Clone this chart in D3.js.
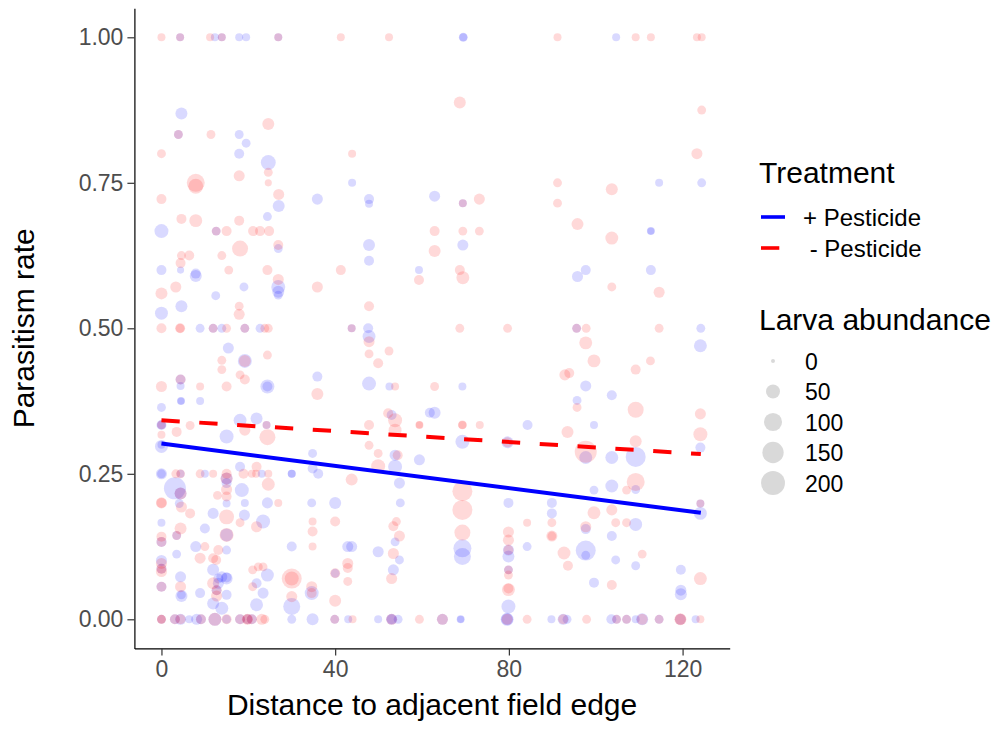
<!DOCTYPE html>
<html>
<head>
<meta charset="utf-8">
<script src="https://cdn.jsdelivr.net/npm/d3@7"></script>
<style>
  body { margin: 0; background: #fff; }
  svg { display: block; }
  text { font-family: Arial, "Liberation Sans", Helvetica, sans-serif; }
</style>
</head>
<body>
<svg id="chart" width="995" height="751"></svg>
<script>
// ---- data -------------------------------------------------------------
const xTicks = [0, 40, 80, 120];
const yTicks = [0, 0.25, 0.5, 0.75, 1];
const treatmentLabels = ["+ Pesticide", " - Pesticide"];
const treatmentColors = ["#0000ff", "#ff0000"];
const sizeBreaks = [0, 50, 100, 150, 200];

// [distance to field edge, parasitism rate, larva abundance]
const plusPoints = [
  [4.3,1,8],[12.3,1,8],[13.9,1,8],[17.9,1,8],[19.5,1,8],[26.9,1,8],[69.5,1,12],[69.5,1,8],[104.7,1,8],
  [4.6,0.869,32],[3.9,0.833,12],[17.9,0.833,12],[19.5,0.818,12],[17.9,0.80,18],[24.6,0.785,60],[27,0.710,32],
  [35.9,0.722,25],[43.9,0.75,8],[47.8,0.722,18],[47.8,0.714,8],[0,0.667,50],[12.6,0.667,12],[24.4,0.692,12],
  [26.9,0.637,12],[4.4,0.600,5],[0,0.600,18],[7.9,0.590,32],[7.9,0.594,18],[26.9,0.571,50],[26.9,0.563,32],
  [26.9,0.557,12],[19,0.571,12],[12.5,0.556,12],[0,0.526,40],[4.6,0.538,32],[47.8,0.643,32],[47.8,0.616,18],
  [59.3,0.600,8],[43.8,0.5,8],
  [8.9,0.5,12],[11.9,0.5,12],[13.9,0.5,12],[19.2,0.5,12],[22.7,0.5,12],[47.6,0.5,18],[95.6,0.5,12],[124.2,0.5,12],
  [62.9,0.727,25],[69.4,0.715,8],[69.4,0.643,25],[112.7,0.667,8],[112.7,0.667,5],[114.6,0.75,8],[124.4,0.75,12],
  [95.8,0.589,25],[97.7,0.600,18],[112.7,0.600,18],
  [15.4,0.466,25],[19.2,0.444,50],[4.4,0.412,18],[4.4,0.401,8],[24.4,0.400,50],[24.4,0.400,18],[4.5,0.375,8],
  [4.5,0.375,5],[8.9,0.375,8],[35.9,0.417,18],[0,0.364,12],[0,0.334,18],[0,0.334,12],[0,0.297,40],[0,0.300,8],
  [15,0.314,50],[18.1,0.342,40],[21.9,0.345,32],[24.2,0.334,8],[18.1,0.262,18],[30,0.250,8],[34.8,0.285,12],
  [34.8,0.259,18],[36.1,0.250,18],[53,0.351,18],[53.8,0.282,25],[53.8,0.262,50],[54.8,0.234,25],[59.4,0.274,25],
  [61.8,0.355,18],[47.8,0.486,40],[47.8,0.405,50],[52.5,0.400,8],
  [0,0.25,25],[0,0.25,12],[4.4,0.25,8],[10,0.25,8],[15,0.242,32],[15,0.234,18],[23.1,0.25,8],[30,0.25,8],
  [3.1,0.225,162],[4.4,0.216,32],[4.1,0.199,12],[0,0.166,8],[0,0.133,18],[0,0.101,25],[0,0.087,18],[0,0.056,18],
  [3.5,0.144,12],[3.5,0.112,12],[4.4,0.073,25],[4.6,0.040,32],[4.6,0.042,12],[7.9,0.125,25],[8.9,0.045,18],
  [10,0.156,18],[11.9,0.182,25],[11.9,0.085,32],[13.1,0.070,18],[13.1,0.062,25],[12.7,0.050,18],[11.9,0.027,32],
  [13.9,0.019,40],[13.9,0.073,25],[15,0.070,32],[15,0.072,18],[15,0.145,40],[15,0.119,12],[15,0.042,18],
  [15,0.199,8],[18.5,0.222,50],[19.2,0.200,8],[19.1,0.179,25],[23.4,0.168,50],[24.4,0.200,25],[24.4,0.076,40],
  [21.9,0.062,18],[23.4,0.045,25],[21.9,0.025,40],[30,0.022,85],[30,0.125,18],[34.6,0.045,50],[34.6,0.200,12],
  [40,0.200,32],[40,0.079,12],[42.9,0.125,25],[43.8,0.125,25],[49.9,0.116,25],[53.8,0.133,12],[54.8,0.102,12],
  [53.4,0.085,25],[55,0.200,12],
  [69.3,0.400,8],[62.9,0.355,32],[97.7,0.401,25],[95.7,0.376,12],[103.7,0.385,18],[124.1,0.470,40],
  [124.1,0.295,18],[99.6,0.334,8],[84.3,0.334,18],[69.3,0.305,50],[79.7,0.304,32],[97.7,0.278,40],
  [103.7,0.278,40],[109.2,0.279,128],[109.2,0.223,12],[103.7,0.229,40],[99.6,0.222,12],[69.3,0.122,98],
  [69.3,0.108,85],[79.9,0.200,18],[79.9,0.119,25],[79.9,0.108,32],[79.9,0.085,12],[79.9,0.022,50],
  [84.2,0.125,12],[89.9,0.200,18],[89.9,0.182,18],[97.7,0.155,18],[97.7,0.118,128],[97.7,0.110,12],
  [109.2,0.163,40],[103.7,0.143,18],[104.6,0.102,12],[109.2,0.092,12],[99.6,0.063,18],[119.6,0.085,18],
  [119.6,0.050,25],[119.6,0.043,32],[124.1,0.199,8],[124.1,0.182,40],
  [0,0,12],[3.1,0,18],[4.4,0,25],[6.4,0,8],[8.1,0,25],[9.1,0,18],[12.3,0,40],[15,0,12],[18.1,0,18],[19.8,0,18],
  [20.8,0,18],[30,0,12],[34.8,0,32],[39.9,0,12],[43,0,8],[49.9,0,8],[53,0,25],[53,0,18],[54.5,0,12],[64.7,0,25],
  [68.9,0,8],[68.9,0,5],[79.6,0,40],[79.6,0,32],[89.8,0,8],[92.5,0,25],[93.4,0,12],[103.6,0,18],[104.8,0,12],
  [107.1,0,12],[109.2,0,8],[110.7,0,32],[114.6,0,12],[119.5,0,25],[123,0,8]
];

const minusPoints = [
  [0,1,8],[4.3,1,8],[11.2,1,8],[13.9,1,8],[26.9,1,8],[41.3,1,8],[52.4,1,8],[91.2,1,8],[109.2,1,8],[112.7,1,8],
  [123.3,1,8],[124.4,1,8],
  [3.9,0.833,12],[11.4,0.833,12],[24.6,0.851,32],[0,0.80,12],[24.6,0.768,12],[24.6,0.75,5],[7.9,0.75,98],
  [7.9,0.744,60],[0,0.722,18],[17.9,0.762,25],[27,0.730,25],[43.9,0.80,8],[4.6,0.688,18],[7.9,0.685,40],
  [12.6,0.667,12],[15,0.667,18],[17.9,0.685,18],[21.1,0.667,18],[22.7,0.667,18],[24.8,0.667,18],[18.1,0.637,72],
  [26.9,0.643,18],[4.6,0.625,12],[6.4,0.625,18],[4.4,0.612,18],[13.9,0.625,12],[15.5,0.600,12],[24.4,0.600,18],
  [26.9,0.584,25],[3.3,0.571,25],[0,0.560,32],[17.9,0.538,12],[17.9,0.524,25],[35.9,0.571,25],[41.3,0.600,18],
  [47.8,0.538,18],[59.3,0.583,18],[43.8,0.5,8],
  [0,0.5,18],[4.3,0.5,18],[4.3,0.5,12],[11.9,0.5,12],[15,0.5,12],[19.2,0.5,12],[23.8,0.5,12],[24.6,0.5,12],
  [68.7,0.5,12],[79.7,0.5,12],[95.6,0.5,12],[97.8,0.5,12],[114.6,0.5,12],
  [68.7,0.888,32],[124.4,0.875,12],[123.3,0.80,25],[91.2,0.75,12],[103.7,0.739,32],[69.4,0.715,8],[73.2,0.722,25],
  [91.2,0.715,12],[62.9,0.667,18],[62.9,0.633,32],[69.4,0.667,12],[73.2,0.667,12],[95.8,0.679,32],[103.7,0.655,40],
  [68.7,0.600,18],[69.4,0.587,40],[103.7,0.571,12],[114.6,0.562,25],
  [13.9,0.445,12],[13.9,0.429,12],[19.2,0.444,32],[24.4,0.454,12],[18.1,0.420,12],[19.2,0.412,18],[0,0.400,25],
  [4.4,0.412,18],[8.9,0.400,8],[15,0.400,18],[35.9,0.387,32],[0,0.334,12],[0,0.317,8],[3.5,0.322,18],
  [6.6,0.333,12],[19.2,0.325,25],[24.2,0.334,8],[24.4,0.313,72],[21.9,0.262,18],[43.8,0.240,32],[47.8,0.334,18],
  [47.8,0.299,12],[49.9,0.285,12],[49.9,0.263,50],[52.2,0.354,18],[53.8,0.342,50],[53.8,0.325,40],[54.4,0.282,18],
  [59.4,0.334,8],[59.4,0.334,5],[47.8,0.477,25],[47.8,0.456,12],[49.9,0.440,18],[52.4,0.461,12],[53.8,0.400,8],
  [3.3,0.25,12],[4.4,0.25,12],[8.9,0.25,12],[11.9,0.25,8],[15,0.25,18],[15,0.242,32],[18.9,0.25,18],
  [20.8,0.25,8],[21.8,0.25,8],[24.6,0.25,8],[24.6,0.232,40],
  [4.4,0.216,32],[4.6,0.193,25],[6.6,0.182,18],[0,0.200,25],[0,0.200,18],[0,0.142,18],[0,0.133,18],[0,0.096,25],
  [0,0.082,25],[0,0.087,18],[0,0.056,18],[3.5,0.144,12],[4.4,0.156,32],[4.4,0.056,25],[8.9,0.105,25],
  [10,0.125,12],[11.9,0.105,18],[12.6,0.102,18],[11.9,0.062,32],[12.7,0.050,18],[12.7,0.040,25],[13.1,0.119,18],
  [15,0.176,60],[15,0.145,50],[15,0.223,25],[15,0.211,18],[12.9,0.213,12],[18.1,0.166,12],[21.9,0.159,25],
  [26.9,0.200,8],[21,0.085,12],[22.3,0.090,12],[23.4,0.090,12],[21,0.056,12],[30,0.070,128],[30,0.070,50],
  [30,0.039,25],[34.8,0.168,8],[34.8,0.151,18],[34.8,0.125,8],[34.6,0.056,25],[34.6,0.045,18],[40,0.168,18],
  [40,0.079,18],[40,0.032,32],[42.9,0.096,25],[42.9,0.088,18],[42.9,0.065,12],[53.4,0.160,18],[54.1,0.168,12],
  [54.8,0.143,25],[53.4,0.113,25],[53,0.070,25],
  [62.9,0.400,12],[97.7,0.475,40],[99.6,0.444,40],[92.9,0.420,25],[93.9,0.423,18],[95.7,0.364,12],
  [109.2,0.429,18],[112.6,0.444,12],[109.2,0.360,72],[124.1,0.353,25],[124.1,0.318,50],[93.5,0.322,32],
  [69.3,0.334,12],[69.3,0.334,8],[73.3,0.334,8],[79.7,0.304,18],[97.7,0.288,162],[109.2,0.306,32],
  [109.2,0.236,98],[107.1,0.222,12],[69.3,0.220,128],[69.3,0.188,128],[69.3,0.149,72],[79.9,0.150,25],
  [79.9,0.136,25],[79.9,0.119,18],[79.9,0.085,12],[79.9,0.076,12],[79.9,0.051,40],[79.9,0.053,18],
  [84.2,0.166,8],[89.9,0.166,12],[89.9,0.143,25],[89.9,0.143,12],[92.7,0.114,40],[93.6,0.092,18],
  [97.7,0.159,25],[99.6,0.183,40],[103.7,0.188,25],[104.6,0.166,12],[107.1,0.166,12],[110.7,0.112,12],
  [103.7,0.059,18],[124.1,0.199,8],[124.1,0.070,40],
  [0,0,12],[0,0,12],[3.1,0,18],[4.4,0,18],[9.1,0,18],[12.3,0,40],[15,0,18],[18.1,0,18],[19.8,0,25],[19.8,0,18],
  [20.8,0,18],[23.1,0,25],[23.8,0,12],[39.9,0,12],[44,0,8],[53,0,25],[59.4,0,12],[64.7,0,25],[79.6,0,25],
  [84.2,0,12],[92.5,0,18],[97.9,0,12],[104.8,0,12],[107.1,0,12],[110.7,0,25],[114.6,0,12],[119.5,0,32],
  [119.5,0,25],[124.1,0,8]
];

// fitted linear trends: rate at the two ends of the distance range
const fitDistance = [0, 124.2];
const plusFit = [0.302, 0.183];
const minusFit = [0.342, 0.284];

// ---- layout -----------------------------------------------------------
const svg = d3.select("#chart");
const panel = { left: 134.4, right: 729.7, top: 8.2, bottom: 648.4 };

const x = d3.scaleLinear().domain([-6.23, 130.85]).range([panel.left, panel.right]);
const y = d3.scaleLinear().domain([-0.05, 1.05]).range([panel.bottom, panel.top]);
const r = d3.scaleSqrt().domain([0, 200]).range([2, 12]);
const POINT_ALPHA = 0.15;

// ---- points -----------------------------------------------------------
const pts = svg.append("g");
[[plusPoints, treatmentColors[0]], [minusPoints, treatmentColors[1]]].forEach(([data, col]) => {
  pts.append("g").selectAll("circle").data(data).join("circle")
    .attr("cx", d => x(d[0]))
    .attr("cy", d => y(d[1]))
    .attr("r", d => r(d[2]))
    .attr("fill", col)
    .attr("fill-opacity", POINT_ALPHA);
});

// ---- trend lines ------------------------------------------------------
const line = d3.line().x(d => x(d[0])).y(d => y(d[1]));
svg.append("path")
  .datum(fitDistance.map((d, i) => [d, plusFit[i]]))
  .attr("d", line).attr("fill", "none")
  .attr("stroke", treatmentColors[0]).attr("stroke-width", 4);
svg.append("path")
  .datum(fitDistance.map((d, i) => [d, minusFit[i]]))
  .attr("d", line).attr("fill", "none")
  .attr("stroke", treatmentColors[1]).attr("stroke-width", 4)
  .attr("stroke-dasharray", "18.3,19.6");

// ---- axes -------------------------------------------------------------
function styleAxis(g) {
  g.select(".domain").attr("stroke", "#000").attr("stroke-width", 1.2);
  g.selectAll(".tick line").attr("stroke", "#333").attr("stroke-width", 1.2);
  g.selectAll(".tick text").attr("fill", "#4d4d4d").attr("font-size", 23)
    .attr("font-family", 'Arial, "Liberation Sans", sans-serif');
}
svg.append("g")
  .attr("transform", `translate(0,${panel.bottom})`)
  .call(d3.axisBottom(x).tickValues(xTicks).tickSize(7).tickSizeOuter(0).tickPadding(5).tickFormat(d3.format("d")))
  .call(styleAxis);
svg.append("g")
  .attr("transform", `translate(${panel.left},0)`)
  .call(d3.axisLeft(y).tickValues(yTicks).tickSize(7).tickSizeOuter(0).tickPadding(4).tickFormat(d3.format(".2f")))
  .call(styleAxis);

// axis titles
svg.append("text")
  .attr("x", (panel.left + panel.right) / 2).attr("y", 715)
  .attr("text-anchor", "middle").attr("font-size", 30).attr("fill", "#000")
  .text("Distance to adjacent field edge");
svg.append("text")
  .attr("transform", `translate(34,${(panel.top + panel.bottom) / 2}) rotate(-90)`)
  .attr("text-anchor", "middle").attr("font-size", 30).attr("fill", "#000")
  .text("Parasitism rate");

// ---- legend: treatment ------------------------------------------------
const lg = svg.append("g");
lg.append("text").attr("x", 759).attr("y", 183).attr("font-size", 30).attr("fill", "#000").text("Treatment");
treatmentLabels.forEach((lab, i) => {
  const cy = 217 + i * 31;
  lg.append("line")
    .attr("x1", 761).attr("x2", 785).attr("y1", cy).attr("y2", cy)
    .attr("stroke", treatmentColors[i]).attr("stroke-width", 3.6)
    .attr("stroke-dasharray", i === 1 ? "18.3,19.6" : null);
  lg.append("text")
    .attr("x", 803).attr("y", cy + 8.5)
    .attr("font-size", 24).attr("fill", "#000")
    .style("white-space", "pre")
    .text(lab);
});

// ---- legend: larva abundance ------------------------------------------
lg.append("text").attr("x", 759).attr("y", 330).attr("font-size", 30).attr("fill", "#000").text("Larva abundance");
sizeBreaks.forEach((v, i) => {
  const cy = 361 + i * 30.5;
  lg.append("circle")
    .attr("cx", 773).attr("cy", cy).attr("r", r(v))
    .attr("fill", "#000").attr("fill-opacity", POINT_ALPHA);
  lg.append("text")
    .attr("x", 805).attr("y", cy + 8.5)
    .attr("font-size", 23).attr("fill", "#000")
    .text(v);
});
</script>
</body>
</html>
